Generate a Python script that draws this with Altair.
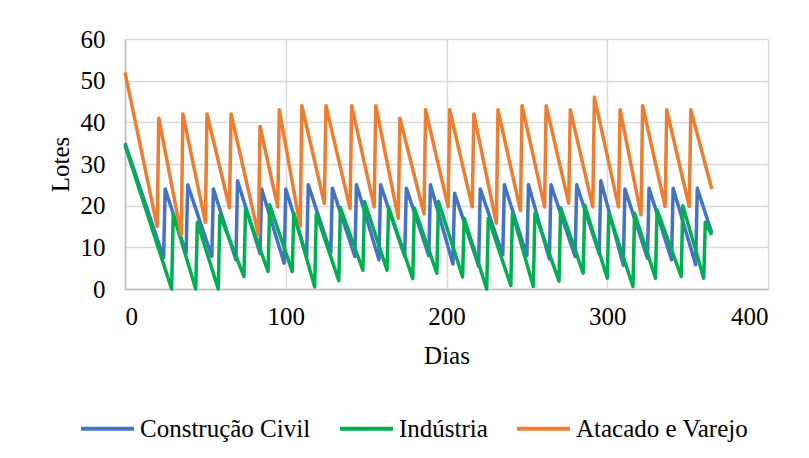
import altair as alt
import pandas as pd

series_names = ["Construção Civil", "Indústria", "Atacado e Varejo"]
series_colors = ["#4472C4", "#00B050", "#ED7D31"]

# Construção Civil (vertices of the sawtooth: day, lots)
cc_days = [0, 24, 25, 38, 39, 54, 55, 69, 70, 84, 85, 99, 100,
           113, 114, 128, 129, 143, 144, 158, 159, 174, 175,
           189, 190, 204, 205, 220, 221, 235, 236, 250, 251,
           264, 265, 280, 281, 295, 296, 310, 311,
           325, 326, 340, 341, 355, 356, 365]
cc_vals = [35, 7.5, 24, 8.6, 25, 7.8, 24, 7, 26, 8.5, 24, 6.2, 24,
           7.8, 25, 8.6, 24.2, 7.8, 25, 7, 25, 7.8, 24.2,
           8, 25, 6, 23, 5.5, 24, 8.2, 25, 8, 25,
           7.2, 25, 7.8, 25, 8.4, 26, 5.7, 24,
           7.4, 24.2, 7, 24.2, 5.8, 24.2, 13.5]

# Indústria
ind_days = [0, 29, 30, 44, 45, 58, 59, 74, 75, 89, 90, 104, 105,
            118, 119, 133, 134, 148, 149, 163, 164, 179, 180,
            194, 195, 210, 211, 225, 226, 240, 241, 254, 255,
            270, 271, 285, 286, 300, 301, 316, 317,
            330, 331, 346, 347, 360, 361, 365]
ind_vals = [34.5, 0, 18, 0, 16, 0, 17.8, 3, 19.4, 4.2, 20.2, 4.2, 18.2,
            0.5, 18, 2, 19.5, 4.5, 21, 4.5, 19.6, 2.5, 19.4,
            3.8, 21, 2.9, 17, 0, 17, 0.8, 18.2, 0.6, 18.2,
            1.9, 19.5, 3.8, 20.1, 2.6, 18.2, 0.6, 18.2,
            2.6, 19, 3, 20, 2.6, 16, 13]

# Atacado e Varejo
av_days = [0, 20, 21, 35, 36, 50, 51, 65, 66, 83, 84, 95, 96,
           109, 110, 124, 125, 140, 141, 155, 156, 170, 171,
           186, 187, 201, 202, 216, 217, 231, 232, 246, 247,
           261, 262, 276, 277, 291, 292, 307, 308,
           321, 322, 336, 337, 351, 352, 365]
av_vals = [52, 15, 41, 13, 42, 16, 42, 19.5, 42, 13, 39, 19.7, 43,
           15, 44, 20.5, 44, 19.3, 44, 19.7, 44, 17, 41,
           18, 43, 19.7, 43, 19.7, 42, 15.8, 43, 18.8, 44,
           19.7, 44, 20.6, 43, 19.7, 46, 19.7, 43,
           17.8, 44, 19.8, 43, 19.8, 43, 24]

x_ticks = [0, 100, 200, 300, 400]
y_ticks = [0, 10, 20, 30, 40, 50, 60]

rows = []
for name, days, vals in zip(series_names, [cc_days, ind_days, av_days], [cc_vals, ind_vals, av_vals]):
    for i, (d, v) in enumerate(zip(days, vals)):
        rows.append({"serie": name, "dia": d, "lotes": v, "ordem": i})
df = pd.DataFrame(rows)

FONT = "Liberation Serif"

color = alt.Color(
    "serie:N",
    scale=alt.Scale(domain=series_names, range=series_colors),
    legend=alt.Legend(
        title=None, orient="none", direction="horizontal",
        legendX=-46, legendY=361,
        symbolType="stroke", symbolSize=2809, symbolStrokeWidth=4,
        labelFont=FONT, labelFontSize=25, labelColor="#000000",
        labelOffset=4, columnPadding=21, labelLimit=400,
    ),
)

x = alt.X("dia:Q", scale=alt.Scale(domain=[0, 400], nice=False),
          axis=alt.Axis(values=x_ticks, title="Dias", grid=True, ticks=False,
                        labelPadding=15, titlePadding=14))
y = alt.Y("lotes:Q", scale=alt.Scale(domain=[0, 60], nice=False),
          axis=alt.Axis(values=y_ticks, title="Lotes", grid=True, ticks=False,
                        labelPadding=20, titleX=-65, titleBaseline="middle"))

layers = []
for name in series_names:
    layers.append(
        alt.Chart(df).transform_filter(alt.datum.serie == name)
        .mark_line(strokeWidth=3.5, strokeJoin="round")
        .encode(x=x, y=y, color=color, order="ordem:Q")
    )

chart = alt.layer(*layers).properties(
    width=643, height=250,
    autosize="none",
    padding={"left": 125, "top": 39, "right": 41, "bottom": 169},
    background="#ffffff",
).configure_view(stroke=None).configure_axis(
    labelFont=FONT, labelFontSize=25, labelColor="#000000",
    titleFont=FONT, titleFontSize=25, titleFontWeight="normal", titleColor="#000000",
    gridColor="#d9d9d9", gridWidth=1.5, domainColor="#bfbfbf", domainWidth=1.5,
)

chart.save("out.html", embed_options={"renderer": "svg", "actions": False})
